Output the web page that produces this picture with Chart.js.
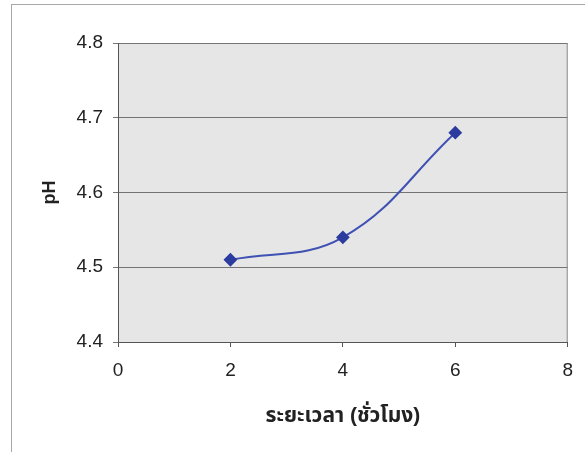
<!DOCTYPE html>
<html>
<head>
<meta charset="utf-8">
<script src="https://cdn.jsdelivr.net/npm/chart.js@4/dist/chart.umd.min.js"></script>
<style>
  html, body { margin: 0; padding: 0; background: #ffffff; }
  #wrap { position: relative; width: 585px; height: 452px; overflow: hidden; }
  #frame { position: absolute; left: 11px; top: 4px; width: 600px; height: 500px; border-left: 1px solid #a8a8a8; border-top: 1px solid #a8a8a8; box-sizing: border-box; }
  canvas { position: absolute; left: 0; top: 0; }
</style>
</head>
<body>
<div id="wrap">
  <div id="frame"></div>
  <canvas id="c" width="585" height="452"></canvas>
</div>
<script>
const hours = [2, 4, 6];
const phValues = [4.51, 4.54, 4.68];
const xTitle = 'ระยะเวลา (ชั่วโมง)';
const yTitle = 'pH';

const plotBg = {
  id: 'plotBg',
  beforeDraw(chart) {
    const { ctx, chartArea: a } = chart;
    ctx.save();
    ctx.fillStyle = '#e6e6e6';
    ctx.fillRect(a.left, a.top, a.right - a.left, a.bottom - a.top);
    ctx.restore();
  },
  beforeDatasetsDraw(chart) {
    const { ctx, chartArea: a } = chart;
    ctx.save();
    ctx.strokeStyle = '#8c8c8c';
    ctx.lineWidth = 1;
    ctx.beginPath();
    ctx.moveTo(a.right - 0.5, a.top);
    ctx.lineTo(a.right - 0.5, a.bottom);
    ctx.stroke();
    ctx.restore();
  }
};

const tickFont = { family: "'Liberation Sans', Arial, sans-serif", size: 19 };
const xTitleFont = { family: "'Liberation Sans', Arial, 'Noto Sans Thai', sans-serif", size: 21, weight: 'bold' };
const yTitleFont = { family: "'Liberation Sans', Arial, sans-serif", size: 18, weight: 'bold' };

new Chart(document.getElementById('c'), {
  type: 'line',
  data: {
    datasets: [{
      data: hours.map((h, i) => ({ x: h, y: phValues[i] })),
      borderColor: '#3f51b3',
      backgroundColor: '#2c3c9e',
      borderWidth: 2,
      pointStyle: 'rectRot',
      pointRadius: 5.5,
      pointHoverRadius: 5.5,
      pointBackgroundColor: '#2c3c9e',
      pointBorderColor: '#2c3c9e',
      tension: 0.4,
      fill: false
    }]
  },
  options: {
    responsive: false,
    animation: false,
    devicePixelRatio: 1,
    layout: { padding: { left: 0, top: 43, right: 17, bottom: 0 } },
    plugins: { legend: { display: false }, tooltip: { enabled: false } },
    scales: {
      x: {
        type: 'linear',
        min: 0, max: 8,
        afterFit(s) { s.height = 110; },
        ticks: { stepSize: 2, color: '#222222', font: tickFont, padding: 12 },
        grid: { drawOnChartArea: false, drawTicks: true, tickLength: 5, color: '#555555' },
        border: { display: true, color: '#555555', width: 1 },
        title: { display: true, text: xTitle, color: '#222222', font: xTitleFont, padding: { top: 0, bottom: 23 } }
      },
      y: {
        min: 4.4, max: 4.8,
        afterFit(s) { s.width = 118; },
        ticks: { stepSize: 0.1, color: '#222222', font: tickFont, padding: 10,
                 callback: v => Number(v).toFixed(1) },
        grid: { drawOnChartArea: true, drawTicks: true, tickLength: 5, color: '#747474' },
        border: { display: true, color: '#555555', width: 1 },
        title: { display: true, text: yTitle, color: '#222222', font: yTitleFont, padding: { top: 39, bottom: 0 } }
      }
    }
  },
  plugins: [plotBg]
});
</script>
</body>
</html>
